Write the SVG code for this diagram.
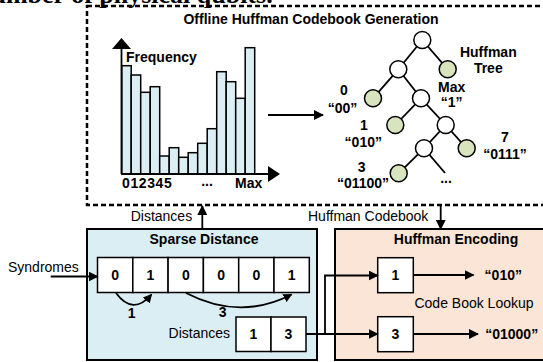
<svg xmlns="http://www.w3.org/2000/svg" width="543" height="362" viewBox="0 0 543 362">
  <style>
    .b { font-family: "Liberation Sans", Arial, sans-serif; font-weight: bold; font-size: 14px; fill: #000; }
    .r { font-family: "Liberation Sans", Arial, sans-serif; font-size: 14px; fill: #000; }
    .c { text-anchor: middle; }
    .ln { stroke: #000; stroke-width: 1.8; fill: none; }
    .cell { fill: #fff; stroke: #000; stroke-width: 1.5; }
    .bar { fill: #dbeef4; stroke: #000; stroke-width: 1.5; }
    .leaf { fill: #d7e4bd; stroke: #000; stroke-width: 1.5; }
    .inner { fill: #fff; stroke: #000; stroke-width: 1.5; }
  </style>
  <defs>
    <marker id="ah" markerWidth="10" markerHeight="10" refX="9" refY="5" orient="auto" markerUnits="userSpaceOnUse">
      <path d="M0,0 L10,5 L0,10 Z" fill="#000"/>
    </marker>
    <marker id="ahs" markerWidth="9" markerHeight="9" refX="8" refY="4.5" orient="auto" markerUnits="userSpaceOnUse">
      <path d="M0,0 L9,4.5 L0,9 Z" fill="#000"/>
    </marker>
  </defs>
  <rect width="543" height="362" fill="#fff"/>

  <!-- caption line cut by the page edge -->
  <text x="-23" y="3" font-family="Liberation Serif, Times New Roman, serif" font-weight="bold" font-size="26">number of physical qubits.</text>

  <!-- offline generation stage -->
  <g id="offline">
    <rect x="87" y="6" width="458" height="199" fill="none" stroke="#000" stroke-width="2.5" stroke-dasharray="5 3"/>
    <text class="b c" x="311" y="24">Offline Huffman Codebook Generation</text>
  </g>

  <!-- frequency histogram -->
  <g id="histogram">
    <rect class="bar" x="121.7" y="65.7" width="9.5" height="108.3"/>
    <rect class="bar" x="131.2" y="75" width="9.5" height="99"/>
    <rect class="bar" x="140.7" y="92.3" width="9.5" height="81.7"/>
    <rect class="bar" x="150.2" y="86.7" width="9.5" height="87.3"/>
    <rect class="bar" x="159.7" y="156" width="9.5" height="18"/>
    <rect class="bar" x="169.2" y="147.7" width="9.5" height="26.3"/>
    <rect class="bar" x="178.7" y="157.3" width="9.5" height="16.7"/>
    <rect class="bar" x="188.2" y="152.7" width="9.5" height="21.3"/>
    <rect class="bar" x="197.7" y="143.3" width="9.5" height="30.7"/>
    <rect class="bar" x="207.2" y="128.7" width="9.5" height="45.3"/>
    <rect class="bar" x="216.7" y="71.7" width="9.5" height="102.3"/>
    <rect class="bar" x="226.2" y="81.7" width="9.5" height="92.3"/>
    <rect class="bar" x="235.7" y="98.3" width="9.5" height="75.7"/>
    <rect class="bar" x="245.2" y="47.7" width="9.5" height="126.3"/>
    <line x1="121.5" y1="174" x2="270" y2="174" stroke="#000" stroke-width="1.8"/>
    <line x1="121.5" y1="174" x2="121.5" y2="47" stroke="#000" stroke-width="1.8"/>
    <path d="M112,49 L121.5,38 L131,49 Z" fill="#000"/>
    <path d="M268,166 L280,174 L268,182 Z" fill="#000"/>
    <text class="b" x="126" y="62">Frequency</text>
    <text class="b" x="122" y="188" letter-spacing="0.6">012345</text>
    <text class="b c" x="207" y="186">...</text>
    <text class="b" x="235" y="188">Max</text>
  </g>

  <!-- huffman tree -->
  <g id="tree">
    <g class="ln" stroke-width="1.5">
      <line x1="422.3" y1="40" x2="398.3" y2="69.3"/>
      <line x1="422.3" y1="40" x2="447.7" y2="69.3"/>
      <line x1="398.3" y1="69.3" x2="373" y2="98.3"/>
      <line x1="398.3" y1="69.3" x2="421" y2="98.3"/>
      <line x1="421" y1="98.3" x2="395.3" y2="125"/>
      <line x1="421" y1="98.3" x2="445.7" y2="125"/>
      <line x1="445.7" y1="125" x2="424" y2="148.3"/>
      <line x1="445.7" y1="125" x2="466.7" y2="148.3"/>
      <line x1="424" y1="148.3" x2="398.7" y2="173.3"/>
      <line x1="424" y1="148.3" x2="445" y2="173"/>
    </g>
    <circle class="inner" cx="422.3" cy="40" r="8.5"/>
    <circle class="inner" cx="398.3" cy="69.3" r="8.5"/>
    <circle class="leaf" cx="447.7" cy="69.3" r="8.5"/>
    <circle class="leaf" cx="373" cy="98.3" r="8.5"/>
    <circle class="inner" cx="421" cy="98.3" r="8.5"/>
    <circle class="leaf" cx="395.3" cy="125" r="8.5"/>
    <circle class="inner" cx="445.7" cy="125" r="8.5"/>
    <circle class="inner" cx="424" cy="148.3" r="8.5"/>
    <circle class="leaf" cx="466.7" cy="148.3" r="8.5"/>
    <circle class="leaf" cx="398.7" cy="173.3" r="8.5"/>
    <text class="b c" x="446" y="183" font-size="11">...</text>
    <text class="b c" x="488.3" y="56.7">Huffman</text>
    <text class="b c" x="488.3" y="73">Tree</text>
    <text class="b c" x="344" y="95">0</text>
    <text class="b c" x="342.5" y="112.7">“00”</text>
    <text class="b c" x="364" y="130">1</text>
    <text class="b c" x="363.3" y="146.7">“010”</text>
    <text class="b c" x="361.7" y="171.7">3</text>
    <text class="b c" x="363" y="188.3">“01100”</text>
    <text class="b c" x="451.7" y="91.7">Max</text>
    <text class="b c" x="451.7" y="107">“1”</text>
    <text class="b c" x="505" y="141.7">7</text>
    <text class="b c" x="505" y="159">“0111”</text>
  </g>

  <!-- sparse distance stage -->
  <g id="sparse">
    <rect x="87" y="229" width="230" height="131" fill="#dbeef4" stroke="#000" stroke-width="2"/>
    <text class="b c" x="204" y="244">Sparse Distance</text>
    <rect class="cell" x="97.5" y="257.5" width="35.3" height="35"/>
    <rect class="cell" x="132.8" y="257.5" width="35.3" height="35"/>
    <rect class="cell" x="168.1" y="257.5" width="35.3" height="35"/>
    <rect class="cell" x="203.4" y="257.5" width="35.3" height="35"/>
    <rect class="cell" x="238.7" y="257.5" width="35.3" height="35"/>
    <rect class="cell" x="274" y="257.5" width="35.3" height="35"/>
    <text class="b c" x="115.2" y="280">0</text>
    <text class="b c" x="150.5" y="280">1</text>
    <text class="b c" x="185.8" y="280">0</text>
    <text class="b c" x="221.1" y="280">0</text>
    <text class="b c" x="256.4" y="280">0</text>
    <text class="b c" x="291.7" y="280">1</text>
    <text class="b c" x="131.7" y="318">1</text>
    <text class="b c" x="222.7" y="317">3</text>
    <text class="r" x="230" y="338" text-anchor="end">Distances</text>
    <rect class="cell" x="236" y="317" width="35" height="34.5"/>
    <rect class="cell" x="271" y="317" width="35" height="34.5"/>
    <text class="b c" x="253.5" y="339">1</text>
    <text class="b c" x="288.5" y="339">3</text>
  </g>

  <!-- huffman encoding stage -->
  <g id="encoding">
    <rect x="335" y="229" width="212" height="131" fill="#fbe5d6" stroke="#000" stroke-width="2"/>
    <text class="b c" x="456" y="244">Huffman Encoding</text>
    <rect class="cell" x="377.7" y="257.7" width="35.6" height="35"/>
    <rect class="cell" x="377.7" y="316.7" width="35.6" height="35"/>
    <text class="b c" x="395.5" y="280">1</text>
    <text class="b c" x="395.5" y="339">3</text>
    <text class="r c" x="474" y="308">Code Book Lookup</text>
    <text class="b c" x="503.3" y="280">“010”</text>
    <text class="b c" x="511.7" y="339">“01000”</text>
  </g>

  <!-- connectors -->
  <g id="connectors" class="ln">
    <line x1="268" y1="115" x2="323" y2="115" marker-end="url(#ah)"/>
    <line x1="202.3" y1="229" x2="202.3" y2="206" marker-end="url(#ah)"/>
    <line x1="440.7" y1="206" x2="440.7" y2="229" marker-end="url(#ah)"/>
    <line x1="50.7" y1="276.5" x2="97.5" y2="276.5" marker-end="url(#ah)"/>
    <path d="M116,293 Q133,316 151.5,294.5" marker-end="url(#ahs)"/>
    <path d="M186,293 Q240,321 291.5,294.5" marker-end="url(#ahs)"/>
    <line x1="306" y1="334" x2="377.7" y2="334" marker-end="url(#ah)"/>
    <polyline points="325,334 325,275.5 377.7,275.5" marker-end="url(#ah)"/>
    <line x1="413.3" y1="275" x2="473.5" y2="275" marker-end="url(#ah)"/>
    <line x1="413.3" y1="334" x2="478" y2="334" marker-end="url(#ah)"/>
  </g>

  <!-- connector labels -->
  <g id="labels">
    <text class="r" x="130.7" y="221">Distances</text>
    <text class="r" x="308" y="221">Huffman Codebook</text>
    <text class="r" x="8" y="271.5">Syndromes</text>
  </g>
</svg>
